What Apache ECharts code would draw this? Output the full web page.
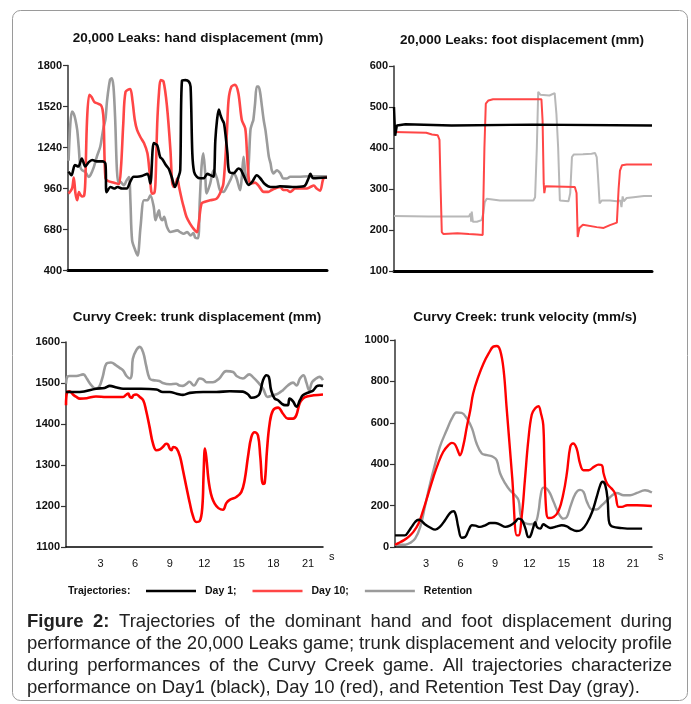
<!DOCTYPE html>
<html><head><meta charset="utf-8">
<script src="https://cdn.jsdelivr.net/npm/echarts@6/dist/echarts.min.js"></script>
<style>html,body{margin:0;padding:0;background:#fff}#c{width:691px;height:704px}</style>
</head><body><div id="c"></div><script>
// ---------- DATA ----------
const handTicks = [400, 680, 960, 1240, 1520, 1800];
const footTicks = [100, 200, 300, 400, 500, 600];
const trunkTicks = [1100, 1200, 1300, 1400, 1500, 1600];
const velTicks = [0, 200, 400, 600, 800, 1000];
const timeTicks = [3, 6, 9, 12, 15, 18, 21];

const handDay1 = [[0.05,1075],[0.3,1050],[0.6,1120],[0.9,1110],[1.2,1165],[1.5,1110],[1.8,1140],[2.1,1155],[2.5,1145],[3.0,1145],[3.25,1130],[3.35,935],[3.7,970],[4.0,960],[4.3,970],[4.7,960],[5.1,960],[5.4,1005],[5.7,1040],[6.0,1040],[6.4,1045],[6.9,1060],[7.15,995],[7.45,1270],[7.75,1255],[8.0,1175],[8.2,1160],[8.5,1120],[8.75,1095],[9.0,1040],[9.3,970],[9.6,1040],[9.75,1085],[9.9,1695],[10.2,1700],[10.5,1690],[10.65,1655],[10.8,1200],[10.95,1075],[11.2,1040],[11.5,1030],[11.8,1030],[12.1,1060],[12.4,1050],[12.65,1040],[12.8,1290],[12.95,1430],[13.1,1500],[13.25,1460],[13.4,1430],[13.55,1405],[13.7,1315],[13.85,1200],[14.0,1075],[14.4,1065],[14.8,1097],[15.0,1090],[15.25,1050],[15.7,985],[16.0,1005],[16.4,1050],[16.7,1030],[17.1,990],[17.6,970],[18.0,970],[18.4,975],[19.5,970],[20.5,975],[20.9,1030],[21.05,1060],[21.3,1030],[22.5,1035]];
const handDay10 = [[0.05,925],[0.35,960],[0.5,1035],[0.65,925],[0.8,880],[0.95,935],[1.1,915],[1.25,905],[1.4,910],[1.5,1000],[1.65,1420],[1.85,1600],[2.05,1585],[2.3,1550],[2.6,1540],[2.85,1530],[3.0,1500],[3.1,1420],[3.25,1030],[3.5,1010],[4.0,1000],[4.4,990],[4.6,1100],[4.8,1400],[5.0,1620],[5.4,1640],[5.6,1560],[5.8,1430],[6.0,1360],[6.3,1310],[6.6,1270],[6.9,1200],[7.1,1060],[7.3,925],[7.5,930],[7.6,1000],[7.75,1400],[7.9,1610],[8.05,1700],[8.3,1690],[8.6,1520],[8.9,1220],[9.05,1000],[9.2,970],[9.35,990],[9.5,1030],[9.65,970],[9.9,880],[10.05,834],[10.3,765],[10.6,720],[10.9,686],[11.2,662],[11.35,720],[11.6,857],[11.9,870],[12.35,880],[12.9,890],[13.2,926],[13.5,994],[13.8,1337],[13.95,1565],[14.2,1656],[14.5,1668],[14.8,1611],[15.1,1428],[15.4,1370],[15.55,1200],[15.7,1030],[15.85,994],[16.25,1000],[16.55,980],[17.0,937],[17.4,937],[17.7,950],[18.0,960],[18.45,970],[18.7,950],[19.0,950],[19.3,937],[19.75,960],[20.2,960],[20.75,960],[21.05,970],[21.35,980],[21.6,960],[21.9,945],[22.2,1030],[22.5,1035]];
const handRet = [[0.05,1150],[0.2,1400],[0.35,1485],[0.5,1470],[0.65,1428],[0.8,1360],[0.93,1245],[1.07,1108],[1.22,1085],[1.5,1074],[1.8,1039],[1.95,1051],[2.25,1108],[2.5,1176],[2.8,1245],[2.95,1313],[3.1,1382],[3.25,1430],[3.4,1565],[3.65,1702],[3.8,1713],[3.95,1656],[4.1,1430],[4.25,1085],[4.4,994],[4.55,1005],[4.85,982],[5.1,1017],[5.3,1039],[5.42,880],[5.57,605],[5.85,537],[6.05,503],[6.3,697],[6.6,880],[6.9,880],[7.15,914],[7.45,834],[7.6,743],[7.9,811],[8.0,766],[8.2,743],[8.35,766],[8.6,697],[8.9,663],[9.5,674],[9.75,662],[10.05,651],[10.35,663],[10.65,640],[10.9,655],[11.05,625],[11.3,620],[11.45,880],[11.6,1108],[11.75,1200],[11.9,1085],[12.05,927],[12.35,994],[12.65,1085],[12.95,1028],[13.2,948],[13.5,937],[13.8,971],[14.1,1017],[14.4,1063],[14.65,1028],[14.95,948],[15.1,1040],[15.25,1176],[15.4,1063],[15.55,994],[15.7,1131],[15.85,1360],[16.0,1405],[16.1,1428],[16.25,1540],[16.4,1656],[16.55,1656],[16.7,1611],[16.85,1519],[17.0,1428],[17.15,1360],[17.3,1268],[17.45,1176],[17.6,1131],[17.7,1085],[17.85,1063],[18.15,1085],[18.45,1063],[18.7,1028],[19.0,1028],[19.3,1040],[20.0,1040],[21.0,1044],[22.5,1044]];

const footDay1 = [[0,500],[0.1,430],[0.25,455],[1.0,458],[5,455],[12,457],[22.4,455]];
const footDay10 = [[0,439],[2.8,437],[3.3,433],[3.8,431],[3.95,420],[4.05,300],[4.15,195],[4.3,190],[5.5,192],[6.5,190],[7.2,189],[7.7,188],[7.85,400],[7.97,508],[8.2,516],[8.6,519],[12.8,519],[12.9,467],[13.0,313],[13.05,290],[13.15,307],[15.7,305],[15.85,290],[15.95,183],[16.1,205],[16.4,213],[17.6,207],[18.2,205],[18.75,212],[19.35,218],[19.5,300],[19.62,345],[19.8,358],[20.2,360],[22.4,360]];
const footRet = [[0,234],[3,233],[6.5,233],[6.65,240],[6.7,220],[6.75,245],[6.85,220],[7.2,220],[7.6,224],[7.75,240],[7.88,268],[8.05,276],[9.2,272],[12.1,272],[12.25,280],[12.4,400],[12.52,537],[12.7,530],[13.5,528],[13.95,534],[14.1,484],[14.25,402],[14.4,272],[14.55,270],[15.15,270],[15.3,290],[15.45,378],[15.6,384],[16.4,385],[17.15,386],[17.45,388],[17.6,378],[17.7,337],[17.85,265],[18.05,272],[18.75,272],[19.35,270],[19.65,272],[19.75,256],[19.85,282],[19.95,270],[20.2,278],[20.8,280],[21.7,283],[22.4,283]];

const trunkDay1 = [[0,1478],[1.2,1478],[2.6,1486],[3.35,1488],[3.8,1493],[4.4,1489],[4.95,1486],[6.5,1486],[7.85,1484],[8.4,1478],[9.0,1478],[9.6,1474],[10.15,1471],[10.75,1476],[11.9,1478],[13.05,1478],[14.2,1480],[15.35,1479],[15.8,1472],[16.1,1464],[16.5,1466],[16.8,1474],[17.1,1507],[17.4,1519],[17.6,1515],[17.8,1482],[18.1,1462],[18.4,1458],[18.7,1450],[19.0,1446],[19.25,1446],[19.4,1462],[19.7,1455],[20.0,1442],[20.3,1458],[20.55,1470],[21.15,1478],[21.45,1482],[21.75,1492],[22.0,1494],[22.3,1493]];
const trunkDay10 = [[0,1446],[0.1,1478],[0.3,1480],[0.6,1472],[0.9,1466],[1.2,1462],[1.8,1463],[2.6,1467],[3.5,1466],[4.4,1466],[4.95,1466],[5.25,1472],[5.4,1474],[5.55,1466],[5.7,1464],[5.85,1470],[6.1,1472],[6.4,1466],[6.7,1458],[6.95,1433],[7.25,1393],[7.55,1352],[7.85,1336],[8.15,1338],[8.4,1344],[8.7,1352],[8.85,1350],[9.0,1340],[9.15,1336],[9.3,1344],[9.6,1340],[9.9,1320],[10.15,1287],[10.45,1246],[10.75,1206],[11.0,1177],[11.3,1161],[11.6,1163],[11.83,1198],[11.94,1279],[12.06,1340],[12.17,1320],[12.46,1246],[12.9,1206],[13.62,1191],[13.91,1207],[14.2,1215],[14.78,1222],[15.21,1234],[15.5,1263],[15.79,1320],[16.08,1368],[16.37,1380],[16.66,1372],[16.86,1320],[17.09,1254],[17.24,1256],[17.44,1336],[17.67,1401],[17.96,1433],[18.4,1440],[18.83,1425],[19.26,1413],[19.7,1413],[19.98,1421],[20.27,1450],[20.56,1462],[20.9,1467],[21.5,1470],[22.3,1472]];
const trunkRet = [[0,1498],[0.1,1515],[0.3,1517],[0.9,1517],[1.5,1521],[1.8,1511],[2.1,1498],[2.6,1486],[2.9,1492],[3.2,1517],[3.5,1547],[3.9,1550],[4.35,1543],[4.65,1537],[4.95,1531],[5.25,1517],[5.55,1511],[5.7,1520],[5.8,1559],[6.1,1580],[6.4,1588],[6.7,1574],[6.95,1543],[7.25,1511],[7.55,1507],[8.1,1505],[8.4,1500],[9.0,1497],[9.55,1498],[9.85,1494],[10.15,1493],[10.45,1498],[10.7,1503],[11.1,1494],[11.6,1511],[11.9,1509],[12.2,1502],[12.75,1502],[13.3,1511],[13.9,1529],[14.5,1527],[14.8,1517],[15.35,1511],[15.9,1521],[16.2,1515],[16.65,1502],[17.1,1486],[17.5,1466],[17.95,1470],[18.4,1474],[18.8,1482],[19.25,1494],[19.7,1501],[20.0,1494],[20.3,1511],[20.6,1519],[20.85,1502],[21.1,1482],[21.35,1502],[21.7,1511],[22.0,1515],[22.3,1507]];

const velDay1 = [[0.3,56],[1.15,56],[1.45,73],[1.75,97],[2.05,121],[2.35,132],[2.6,126],[2.9,110],[3.35,94],[3.8,84],[4.2,97],[4.65,129],[5.1,165],[5.4,173],[5.6,153],[5.8,97],[6.1,45],[6.4,48],[6.7,81],[7.0,105],[7.3,103],[7.7,97],[8.15,105],[8.6,116],[9.0,116],[9.45,108],[9.9,97],[10.3,103],[10.75,121],[11.05,137],[11.35,129],[11.65,89],[11.9,48],[12.05,50],[12.3,89],[12.5,120],[12.65,97],[12.95,89],[13.2,110],[13.5,100],[13.8,92],[14.4,100],[14.8,105],[15.25,100],[15.55,89],[16.1,77],[16.55,84],[17.0,116],[17.45,169],[17.85,242],[18.15,298],[18.35,315],[18.6,298],[18.8,226],[18.9,129],[19.05,105],[19.3,97],[19.9,92],[20.5,89],[21.05,89],[21.8,89]];
const velDay10 = [[0.3,11],[0.6,19],[1.05,32],[1.45,48],[1.9,73],[2.35,113],[2.75,177],[3.2,258],[3.65,339],[4.05,403],[4.5,460],[4.95,492],[5.25,503],[5.5,497],[5.75,468],[5.95,443],[6.25,492],[6.55,581],[6.85,661],[7.1,742],[7.55,823],[8.0,887],[8.45,935],[8.85,968],[9.15,971],[9.45,950],[9.75,855],[10.0,681],[10.5,334],[10.9,56],[11.05,56],[11.35,161],[11.6,323],[11.9,516],[12.2,640],[12.5,670],[12.78,680],[13.0,645],[13.2,590],[13.3,400],[13.45,180],[13.65,140],[14.1,145],[14.55,177],[14.95,258],[15.25,355],[15.55,484],[15.8,500],[16.1,476],[16.4,403],[16.7,371],[17.15,371],[17.6,387],[18.0,398],[18.3,395],[18.45,355],[18.75,306],[19.15,282],[19.45,258],[19.75,194],[20.05,194],[20.5,202],[21.35,202],[22.65,198]];
const velRet = [[0.3,11],[1.2,11],[1.6,19],[2.05,40],[2.5,97],[2.9,194],[3.35,306],[3.8,403],[4.2,484],[4.8,565],[5.25,621],[5.65,650],[6.1,648],[6.55,621],[7.0,573],[7.4,500],[7.85,452],[8.3,444],[8.85,435],[9.15,419],[9.45,355],[9.9,306],[10.3,274],[10.75,250],[11.05,226],[11.2,161],[11.35,129],[11.6,116],[12.05,110],[12.5,116],[12.8,177],[12.95,242],[13.2,287],[13.5,282],[13.8,258],[14.1,218],[14.55,161],[14.95,137],[15.25,145],[15.55,194],[16.0,258],[16.4,276],[16.7,266],[17.0,218],[17.45,181],[17.85,181],[18.3,202],[18.75,226],[19.2,250],[19.6,261],[20.2,250],[20.75,250],[21.35,261],[22.05,274],[22.65,263]];

const titles = ['20,000 Leaks: hand displacement (mm)', '20,000 Leaks: foot displacement (mm)', 'Curvy Creek: trunk displacement (mm)', 'Curvy Creek: trunk velocity (mm/s)'];
const legendNames = ['Day 1', 'Day 10', 'Retention'];
const captionLines = [
  'Figure 2: Trajectories of the dominant hand and foot displacement during',
  'performance of the 20,000 Leaks game; trunk displacement and velocity profile',
  'during performances of the Curvy Creek game. All trajectories characterize',
  'performance on Day1 (black), Day 10 (red), and Retention Test Day (gray).'
];

// ---------- CHART ----------
const FF = '"Liberation Sans", Arial, sans-serif';
const chart = echarts.init(document.getElementById('c'), null, {renderer: 'canvas'});

function yAx(gi, min, max, ticks) {
  return {gridIndex: gi, type: 'value', min: min, max: max,
    axisLine: {show: true, onZero: false, lineStyle: {color: '#333', width: 1.5}},
    axisTick: {show: true, inside: false, length: 5, customValues: ticks, lineStyle: {color: '#333', width: 1.2}},
    axisLabel: {show: true, customValues: ticks, margin: 6, fontSize: 11, fontWeight: 'bold', color: '#111', fontFamily: FF,
      formatter: function (v) { return String(v); }},
    splitLine: {show: false}};
}
function xTop(gi, max) {
  return {gridIndex: gi, type: 'value', min: 0, max: max,
    axisLine: {show: true, onZero: false, lineStyle: {color: '#000', width: 3}},
    axisTick: {show: false}, axisLabel: {show: false}, splitLine: {show: false}};
}
function xBot(gi, min, max) {
  return {gridIndex: gi, type: 'value', min: min, max: max, name: 's', nameLocation: 'end', nameGap: 6,
    nameTextStyle: {fontSize: 11, color: '#111', fontFamily: FF, verticalAlign: 'top', padding: [4, 0, 0, 0]},
    axisLine: {show: true, onZero: false, lineStyle: {color: '#000', width: 1.5}},
    axisTick: {show: false, customValues: timeTicks},
    axisLabel: {show: true, customValues: timeTicks, margin: 11, fontSize: 11, color: '#111', fontFamily: FF,
      formatter: function (v) { return String(v); }},
    splitLine: {show: false}};
}
function ser(name, data, gi, color, width, smooth) {
  return {name: name, type: 'line', xAxisIndex: gi, yAxisIndex: gi, data: data,
    showSymbol: false, symbol: 'none', smooth: smooth, color: color,
    itemStyle: {color: color}, lineStyle: {color: color, width: width},
    emphasis: {disabled: true}};
}

const TF = 'bold 13.5px ' + FF;
const graphics = [
  {type: 'rect', z: -1, shape: {x: 12.5, y: 10.5, width: 675, height: 690, r: 8}, style: {fill: 'none', stroke: '#9a9a9a', lineWidth: 1}},
  {type: 'text', x: 198, y: 38, style: {text: titles[0], align: 'center', verticalAlign: 'middle', font: TF, fill: '#111'}},
  {type: 'text', x: 522, y: 40, style: {text: titles[1], align: 'center', verticalAlign: 'middle', font: TF, fill: '#111'}},
  {type: 'text', x: 197, y: 317, style: {text: titles[2], align: 'center', verticalAlign: 'middle', font: TF, fill: '#111'}},
  {type: 'text', x: 525, y: 317, style: {text: titles[3], align: 'center', verticalAlign: 'middle', font: TF, fill: '#111'}},
  {type: 'text', x: 68, y: 591, style: {text: 'Trajectories:', align: 'left', verticalAlign: 'middle', font: 'bold 10.5px ' + FF, fill: '#111'}}
];

// caption, justified
const cctx = document.createElement('canvas').getContext('2d');
const capFont = '18.5px ' + FF, capBold = 'bold 18.5px ' + FF;
const capL = 27, capR = 672, capY0 = 622, capLH = 22;
captionLines.forEach(function (line, i) {
  const words = line.split(' ');
  const fonts = words.map(function (w, j) { return (i === 0 && j < 2) ? capBold : capFont; });
  const widths = words.map(function (w, j) { cctx.font = fonts[j]; return cctx.measureText(w).width; });
  const total = widths.reduce(function (a, b) { return a + b; }, 0);
  cctx.font = capFont;
  const sp = (i < captionLines.length - 1) ? (capR - capL - total) / (words.length - 1) : cctx.measureText(' ').width;
  let x = capL;
  words.forEach(function (w, j) {
    graphics.push({type: 'text', x: x, y: capY0 + i * capLH, style: {text: w, align: 'left', verticalAlign: 'middle', font: fonts[j], fill: '#222'}});
    x += widths[j] + sp;
  });
});

const option = {
  animation: false,
  backgroundColor: '#fff',
  grid: [
    {left: 68, top: 65.5, width: 259, height: 205, outerBoundsMode: 'none'},
    {left: 394, top: 66, width: 258, height: 205, outerBoundsMode: 'none'},
    {left: 66, top: 342, width: 257, height: 205, outerBoundsMode: 'none'},
    {left: 395, top: 340, width: 257, height: 207, outerBoundsMode: 'none'}
  ],
  xAxis: [xTop(0, 22.5), xTop(1, 22.4), xBot(2, 0, 22.3), xBot(3, 0.3, 22.66)],
  yAxis: [yAx(0, 400, 1800, handTicks), yAx(1, 100, 600, footTicks), yAx(2, 1100, 1600, trunkTicks), yAx(3, 0, 1000, velTicks)],
  legend: {
    data: legendNames, left: 146, top: 585.5, padding: 0, icon: 'rect', itemWidth: 50, itemHeight: 2.5, itemGap: 16,
    selectedMode: false,
    formatter: function (n) { return n === 'Retention' ? n : n + ';'; },
    textStyle: {fontSize: 10.5, fontWeight: 'bold', color: '#111', fontFamily: FF, padding: [0, 0, 0, 4]}
  },
  graphic: graphics,
  series: [
    ser('Retention', handRet, 0, '#9b9b9b', 2.6, 0.3),
    ser('Day 10', handDay10, 0, '#ff4646', 2.6, 0.3),
    ser('Day 1', handDay1, 0, '#000000', 2.6, 0.3),
    ser('Retention', footRet, 1, '#b8b8b8', 2, false),
    ser('Day 10', footDay10, 1, '#ff4646', 2, false),
    ser('Day 1', footDay1, 1, '#000000', 2.4, false),
    ser('Retention', trunkRet, 2, '#9b9b9b', 2.6, 0.4),
    ser('Day 10', trunkDay10, 2, '#ff0000', 2.6, 0.4),
    ser('Day 1', trunkDay1, 2, '#000000', 2.6, 0.4),
    ser('Retention', velRet, 3, '#9b9b9b', 2.4, 0.4),
    ser('Day 10', velDay10, 3, '#ff0000', 2.4, 0.4),
    ser('Day 1', velDay1, 3, '#000000', 2.4, 0.4)
  ]
};
chart.setOption(option);
</script></body></html>
